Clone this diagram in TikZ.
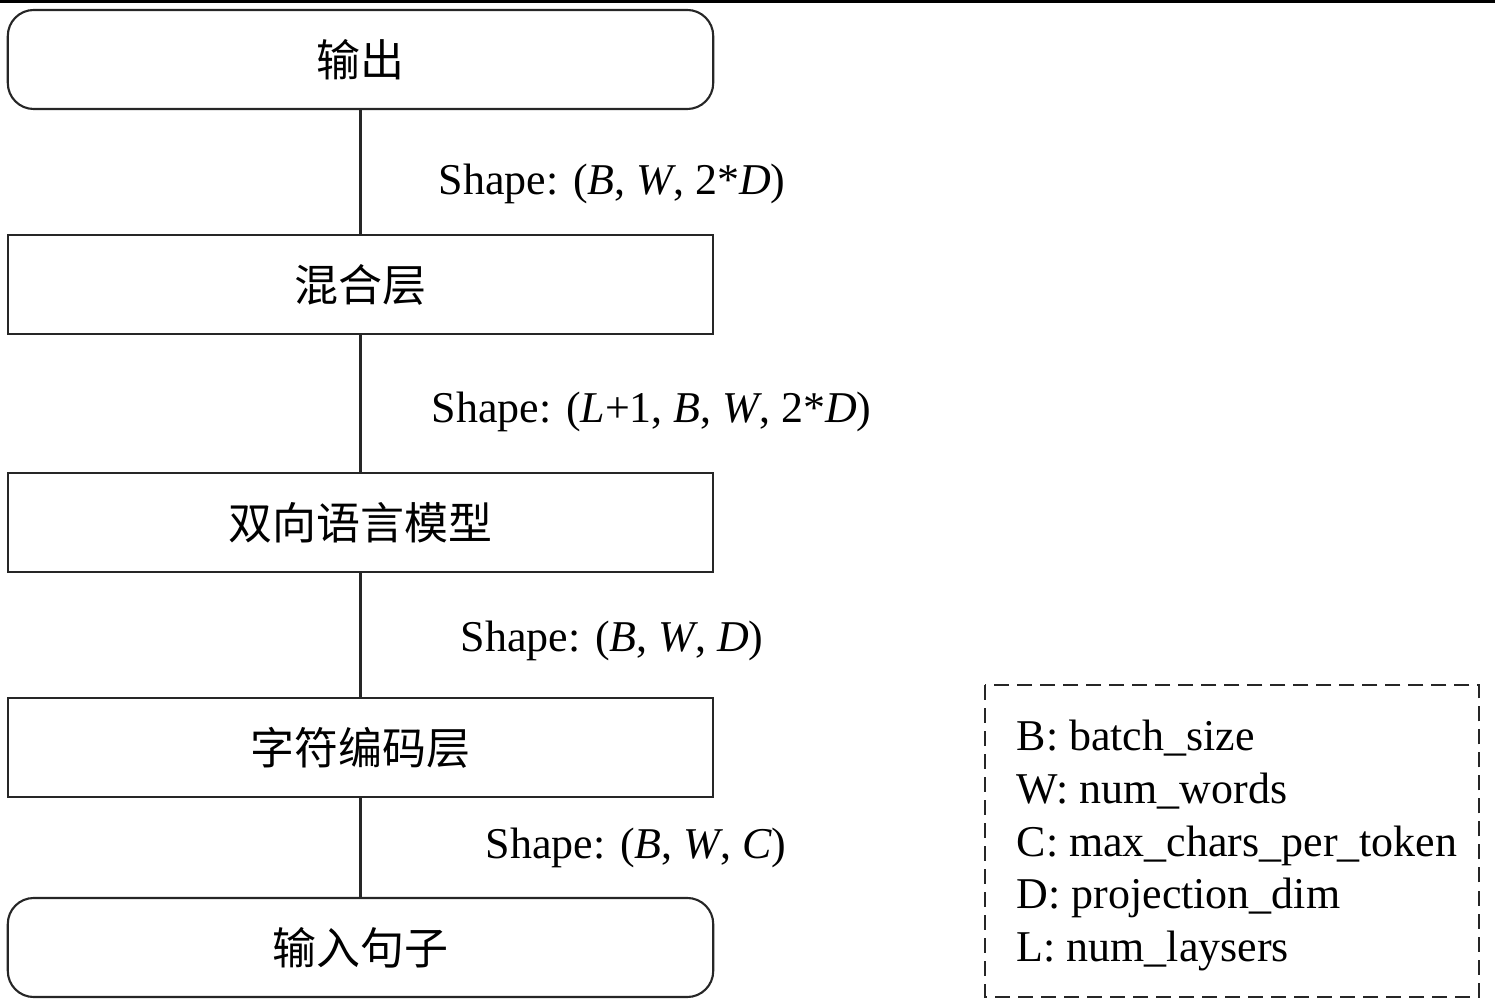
\documentclass[tikz,border=0pt]{standalone}
\usepackage{fontspec}
\setmainfont{Liberation Serif}
\newfontfamily\cjk{Noto Sans CJK SC}
\begin{document}
\begin{tikzpicture}[x=0.01cm,y=-0.01cm,
  blockbox/.style={draw=black!85, line width=0.6pt, minimum width=7.05cm, minimum height=0.99cm, inner sep=0pt, font=\cjk\fontsize{12.5}{15}\selectfont},
  roundbox/.style={blockbox, rounded corners=0.26cm},
  shapelbl/.style={anchor=west, inner sep=0pt, font=\fontsize{12.5}{15}\selectfont},
  conn/.style={draw=black!85, line width=0.6pt}]
\useasboundingbox (0,0) rectangle (1495,1007);
\draw[line width=1.4pt] (0,1) -- (1495,1);
\node[roundbox] (out) at (360.5,59.5) {输出};
\node[blockbox] (mix) at (360.5,284.5) {混合层};
\node[blockbox] (bilm) at (360.5,522.5) {双向语言模型};
\node[blockbox] (char) at (360.5,747.5) {字符编码层};
\node[roundbox] (inp) at (360.5,947.5) {输入句子};
\draw[conn] (out) -- (mix);
\draw[conn] (mix) -- (bilm);
\draw[conn] (bilm) -- (char);
\draw[conn] (char) -- (inp);
\node[shapelbl] (l1) at (438,184) {Shape: (\textit{B}, \textit{W}, 2*\textit{D})};
\node[shapelbl] (l2) at (431,412) {Shape: (\textit{L}+1, \textit{B}, \textit{W}, 2*\textit{D})};
\node[shapelbl] (l3) at (460,641) {Shape: (\textit{B}, \textit{W}, \textit{D})};
\node[shapelbl] (l4) at (485,848) {Shape: (\textit{B}, \textit{W}, \textit{C})};
\draw[draw=black!85, line width=0.75pt, dash pattern=on 0.15cm off 0.08cm] (985,685) rectangle (1479,997);
\node[anchor=north west, inner sep=0pt, align=left, font=\fontsize{12.5}{15.05}\selectfont] (legend) at (1016,719)
  {B: batch\_size\\W: num\_words\\C: max\_chars\_per\_token\\D: projection\_dim\\L: num\_laysers};
\end{tikzpicture}
\end{document}
